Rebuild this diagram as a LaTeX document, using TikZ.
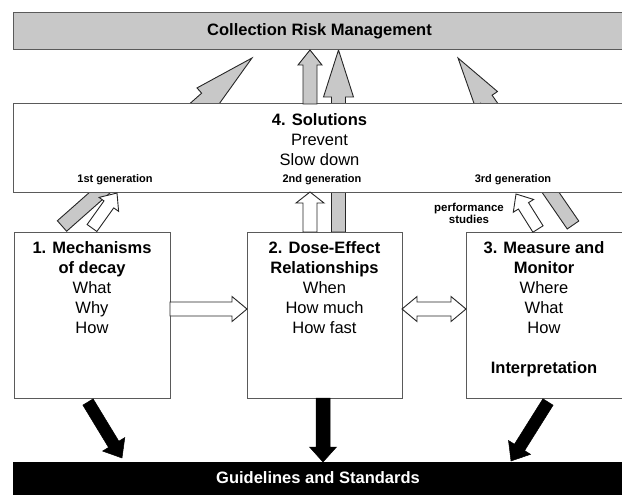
\documentclass[tikz,border=0pt]{standalone}
\usepackage{fontspec}
\setmainfont{Liberation Sans}
\usepackage{tikz}
\usetikzlibrary{calc,positioning,backgrounds}
\definecolor{panelgray}{RGB}{200,200,200}
\definecolor{edgegray}{RGB}{90,90,90}
\newcommand{\blockarrow}[6][]{%
  \draw[#1] let \p1=($(#3)-(#2)$), \n1={atan2(\y1,\x1)}, \n2={veclen(\x1,\y1)} in
    [shift={(#2)}, rotate=\n1]
    (0,-#4) -- (\n2-#6,-#4) -- (\n2-#6,-#5) -- (\n2,0) -- (\n2-#6,#5) -- (\n2-#6,#4) -- (0,#4) -- cycle;}
\newcommand{\twowayarrow}[6][]{%
  \draw[#1] let \p1=($(#3)-(#2)$), \n1={atan2(\y1,\x1)}, \n2={veclen(\x1,\y1)} in
    [shift={(#2)}, rotate=\n1]
    (0,0) -- (#6,-#5) -- (#6,-#4) -- (\n2-#6,-#4) -- (\n2-#6,-#5) -- (\n2,0)
    -- (\n2-#6,#5) -- (\n2-#6,#4) -- (#6,#4) -- (#6,#5) -- cycle;}

\begin{document}
\begin{tikzpicture}[
    x=1pt, y=-1pt,
    panel/.style={draw=edgegray, line width=1pt, fill=white, inner sep=0pt, outer sep=0pt},
    topbar/.style={panel, fill=panelgray, font=\fontsize{16.5}{20}\selectfont\bfseries},
    basebar/.style={draw=black, fill=black, inner sep=0pt, outer sep=0pt},
    boxtext/.style={align=center, inner sep=0pt, font=\fontsize{16.5}{20}\selectfont},
    gen/.style={align=center, inner sep=0pt, font=\fontsize{11}{12}\selectfont\bfseries},
    grayarrow/.style={draw=black!85, fill=panelgray, line width=0.9pt},
    whitearrow/.style={draw=black!85, fill=white, line width=0.9pt},
    blackarrow/.style={draw=black, fill=black, line width=0.5pt}
]
\useasboundingbox (0,0) rectangle (622,495);

\node[topbar, minimum width=613pt, minimum height=37pt] (risk) at (319.5,31.5) {Collection Risk Management};

\node[panel, minimum width=613pt, minimum height=88pt] (sol) at (319.5,148) {};
\node[boxtext, below=9pt of sol.north] (soltxt) {\textbf{4. Solutions}\\Prevent\\Slow down};
\node[gen] (gen1) at (115,180) {1st generation};
\node[gen] (gen2) at (322,180) {2nd generation};
\node[gen] (gen3) at (513,180) {3rd generation};

\node[panel, minimum width=156pt, minimum height=166pt] (mech) at (92,315) {};
\node[boxtext, below=9pt of mech.north] (mechtxt) {\textbf{1. Mechanisms}\\\textbf{of decay}\\What\\Why\\How};
\node[panel, minimum width=155pt, minimum height=166pt] (dose) at (324.5,315) {};
\node[boxtext, below=9pt of dose.north] (dosetxt) {\textbf{2. Dose-Effect}\\\textbf{Relationships}\\When\\How much\\How fast};
\node[panel, minimum width=164pt, minimum height=166pt] (meas) at (548,315) {};
\node[boxtext, below=9pt of meas.north, xshift=-4pt] (meastxt) {\textbf{3. Measure and}\\\textbf{Monitor}\\Where\\What\\How\\[20pt]\textbf{Interpretation}};

\node[basebar, minimum width=613pt, minimum height=33pt] (guide) at (319.5,478.5) {};
\node[text=white, font=\fontsize{16.5}{20}\selectfont\bfseries] (guidetxt) at (318,478) {Guidelines and Standards};

\node[gen, font=\fontsize{11.5}{12}\selectfont\bfseries] (perf) at (469,213) {performance\\studies};

\coordinate (g1s) at (62,226);    \coordinate (g1e) at (252,58);
\coordinate (g2s) at (338.5,232); \coordinate (g2e) at (338.5,50);
\coordinate (g3s) at (573,225);   \coordinate (g3e) at (458,58);
\coordinate (g0s) at (310,104);   \coordinate (g0e) at (310,50);
\coordinate (w1s) at (92,228);    \coordinate (w1e) at (117,193);
\coordinate (w2s) at (310,232);   \coordinate (w2e) at (310,192);
\coordinate (w3s) at (538,229);   \coordinate (w3e) at (516,194);
\coordinate (b1s) at (88,402);    \coordinate (b1e) at (122,458);
\coordinate (b2s) at (323,398);   \coordinate (b2e) at (323,462);
\coordinate (b3s) at (548,402);   \coordinate (b3e) at (511,461);

\begin{scope}[on background layer]
\blockarrow[grayarrow]{g1s}{g1e}{7}{14}{61}
\blockarrow[grayarrow]{g2s}{g2e}{7}{15}{47}
\blockarrow[grayarrow]{g3s}{g3e}{7}{13.5}{50}
\end{scope}
\blockarrow[grayarrow]{g0s}{g0e}{7}{12}{15}

\blockarrow[whitearrow]{w1s}{w1e}{6}{12}{14}
\blockarrow[whitearrow]{w2s}{w2e}{7}{14}{11}
\blockarrow[whitearrow]{w3s}{w3e}{6}{12}{14}

\blockarrow[whitearrow]{mech.east |- 0,309}{dose.west |- 0,309}{7}{12.5}{15}
\twowayarrow[whitearrow]{dose.east |- 0,309}{meas.west |- 0,309}{7}{12.5}{15}

\blockarrow[blackarrow]{b1s}{b1e}{6}{13}{16}
\blockarrow[blackarrow]{b2s}{b2e}{7}{13.5}{15}
\blockarrow[blackarrow]{b3s}{b3e}{6}{13}{16}
\end{tikzpicture}
\end{document}
